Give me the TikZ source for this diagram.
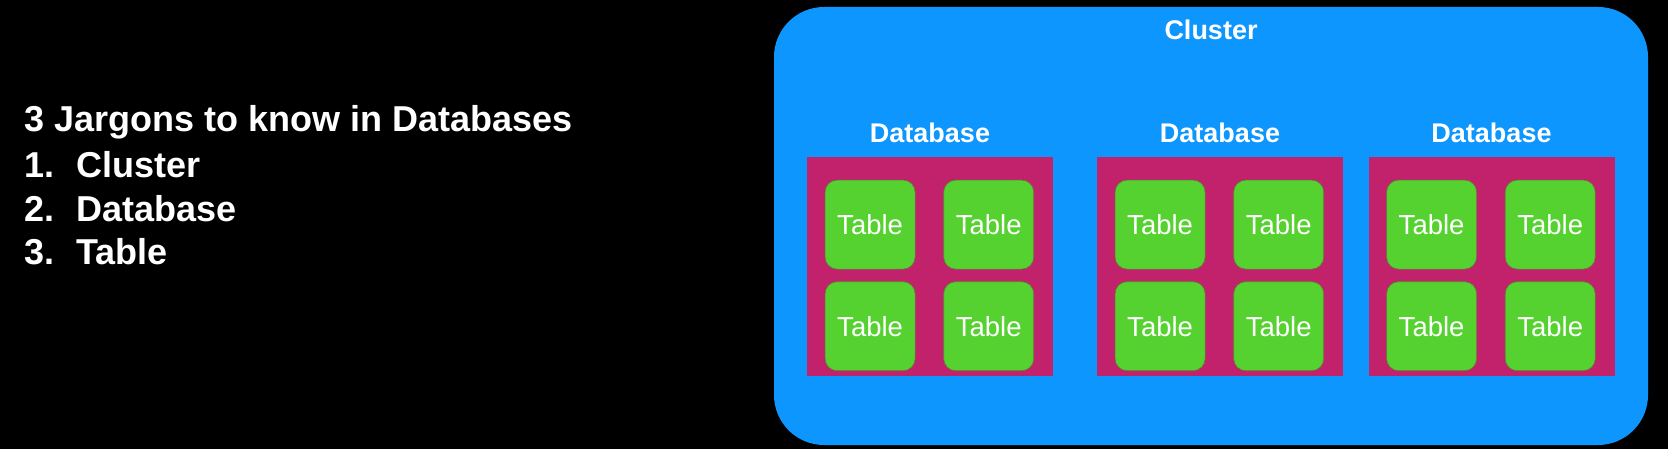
\documentclass[tikz,border=0pt]{standalone}
\usepackage{fontspec}
\setmainfont{Liberation Sans}
\usepackage{xcolor}
\definecolor{clusterblue}{RGB}{14,150,255}
\definecolor{dbmagenta}{RGB}{194,34,108}
\definecolor{tablegreen}{RGB}{86,210,48}
\definecolor{tableedge}{RGB}{95,125,55}
\usepackage{tikz}
\usetikzlibrary{
    positioning
}
\tikzset{
    clusterbox/.style = {rectangle, fill=clusterblue, rounded corners=50pt,
                         minimum width=874pt, minimum height=438pt},
    dbbox/.style      = {rectangle, fill=dbmagenta,
                         minimum width=246pt, minimum height=219pt},
    tablebox/.style   = {rectangle, fill=tablegreen, draw=tableedge, line width=0.6pt,
                         rounded corners=12pt, minimum width=90pt, minimum height=89pt,
                         text=white, font=\fontsize{27.5}{32}\selectfont},
    boxtitle/.style   = {text=white, font=\bfseries\fontsize{27}{32}\selectfont},
    listline/.style   = {text=white, anchor=base west, inner sep=0pt,
                         font=\bfseries\fontsize{36}{44}\selectfont}
}

\begin{document}
\begin{tikzpicture}[x=1pt, y=-1pt]

% ===== Canvas =====
\fill[black] (0,0) rectangle (1668,449);
\useasboundingbox (0,0) rectangle (1668,449);

% ===== Jargon list (left) =====
\node[listline] (head) at (24,132) {3 Jargons to know in Databases};
\node[listline] (item1) at (24,178) {\makebox[52pt][l]{1.}Cluster};
\node[listline] (item2) at (24,222) {\makebox[52pt][l]{2.}Database};
\node[listline] (item3) at (24,264) {\makebox[52pt][l]{3.}Table};

% ===== Cluster =====
\node[clusterbox] (cluster) at (1211,226) {};
\node[boxtitle] (clustertitle) at (1211,30) {Cluster};

% ===== Databases =====
\node[dbbox] (db1) at (930,266.5) {};
\node[dbbox] (db2) at (1220,266.5) {};
\node[dbbox] (db3) at (1491.5,266.5) {};

\node[boxtitle, above=11pt of db1] (db1title) {Database};
\node[boxtitle, above=11pt of db2] (db2title) {Database};
\node[boxtitle, above=11pt of db3] (db3title) {Database};

% ===== Tables =====
\node[tablebox, below right=23pt and 18pt of db1.north west] (db1ta) {Table};
\node[tablebox, right=28pt of db1ta] (db1tb) {Table};
\node[tablebox, below=12pt of db1ta] (db1tc) {Table};
\node[tablebox, below=12pt of db1tb] (db1td) {Table};

\node[tablebox, below right=23pt and 18pt of db2.north west] (db2ta) {Table};
\node[tablebox, right=28pt of db2ta] (db2tb) {Table};
\node[tablebox, below=12pt of db2ta] (db2tc) {Table};
\node[tablebox, below=12pt of db2tb] (db2td) {Table};

\node[tablebox, below right=23pt and 18pt of db3.north west] (db3ta) {Table};
\node[tablebox, right=28pt of db3ta] (db3tb) {Table};
\node[tablebox, below=12pt of db3ta] (db3tc) {Table};
\node[tablebox, below=12pt of db3tb] (db3td) {Table};

\end{tikzpicture}
\end{document}
